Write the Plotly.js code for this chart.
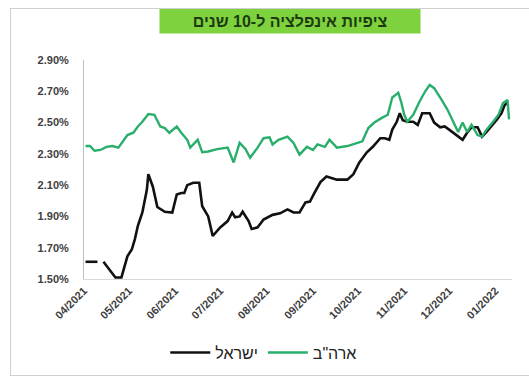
<!DOCTYPE html>
<html><head><meta charset="utf-8">
<script src="https://cdn.plot.ly/plotly-3.0.1.min.js"></script>
<style>
html,body{margin:0;padding:0;background:#fff;}
#wrap{position:relative;width:529px;height:380px;overflow:hidden;}
#frame{position:absolute;left:10px;top:8px;width:530px;height:368px;border:1px solid #cfcfcf;box-sizing:border-box;pointer-events:none;}
#chart{position:absolute;left:0;top:0;width:529px;height:380px;}
</style></head>
<body><div id="wrap"><div id="chart"></div><div id="frame"></div></div>
<script>
const israelDates = ["2021-04-02","2021-04-10","2021-04-12","2021-04-14","2021-04-22","2021-04-26","2021-04-30","2021-05-03","2021-05-05","2021-05-07","2021-05-10","2021-05-13","2021-05-14","2021-05-17","2021-05-20","2021-05-25","2021-05-30","2021-06-02","2021-06-05","2021-06-07","2021-06-09","2021-06-13","2021-06-17","2021-06-19","2021-06-23","2021-06-26","2021-07-01","2021-07-06","2021-07-09","2021-07-11","2021-07-14","2021-07-16","2021-07-20","2021-07-22","2021-07-26","2021-07-30","2021-08-03","2021-08-05","2021-08-10","2021-08-15","2021-08-19","2021-08-23","2021-08-27","2021-08-30","2021-09-02","2021-09-06","2021-09-10","2021-09-17","2021-09-24","2021-09-28","2021-10-02","2021-10-07","2021-10-11","2021-10-16","2021-10-19","2021-10-22","2021-10-24","2021-10-27","2021-10-29","2021-10-31","2021-11-03","2021-11-07","2021-11-10","2021-11-13","2021-11-18","2021-11-21","2021-11-25","2021-11-28","2021-12-01","2021-12-06","2021-12-10","2021-12-13","2021-12-16","2021-12-20","2021-12-23","2021-12-26","2021-12-30","2022-01-02","2022-01-05","2022-01-07","2022-01-09"];
const israelValues = [1.61,1.61,null,1.61,1.51,1.51,1.645,1.69,1.755,1.84,1.925,2.07,2.17,2.09,1.96,1.93,1.925,2.04,2.05,2.05,2.10,2.115,2.115,1.965,1.90,1.775,1.83,1.87,1.925,1.895,1.90,1.93,1.87,1.82,1.83,1.88,1.90,1.91,1.92,1.945,1.925,1.925,1.99,1.995,2.05,2.12,2.155,2.135,2.135,2.17,2.245,2.31,2.345,2.40,2.40,2.39,2.455,2.505,2.56,2.515,2.505,2.505,2.485,2.56,2.56,2.50,2.47,2.475,2.455,2.42,2.39,2.435,2.47,2.47,2.41,2.44,2.485,2.52,2.56,2.61,2.63];
const usDates = ["2021-04-02","2021-04-05","2021-04-08","2021-04-12","2021-04-16","2021-04-20","2021-04-24","2021-04-27","2021-04-30","2021-05-04","2021-05-07","2021-05-10","2021-05-14","2021-05-18","2021-05-22","2021-05-25","2021-05-28","2021-06-02","2021-06-05","2021-06-09","2021-06-11","2021-06-14","2021-06-16","2021-06-19","2021-06-23","2021-06-29","2021-07-06","2021-07-10","2021-07-14","2021-07-18","2021-07-21","2021-07-26","2021-07-30","2021-08-03","2021-08-05","2021-08-09","2021-08-15","2021-08-19","2021-08-23","2021-08-28","2021-09-01","2021-09-04","2021-09-09","2021-09-12","2021-09-17","2021-09-24","2021-09-30","2021-10-04","2021-10-08","2021-10-12","2021-10-17","2021-10-21","2021-10-24","2021-10-28","2021-10-30","2021-11-01","2021-11-03","2021-11-07","2021-11-11","2021-11-15","2021-11-18","2021-11-21","2021-11-26","2021-11-30","2021-12-03","2021-12-07","2021-12-10","2021-12-13","2021-12-16","2021-12-20","2021-12-23","2021-12-26","2021-12-30","2022-01-03","2022-01-06","2022-01-09","2022-01-10"];
const usValues = [2.35,2.35,2.32,2.325,2.345,2.35,2.34,2.38,2.42,2.435,2.475,2.505,2.555,2.55,2.475,2.465,2.435,2.475,2.435,2.39,2.34,2.37,2.39,2.31,2.315,2.33,2.34,2.245,2.37,2.33,2.275,2.34,2.40,2.405,2.36,2.39,2.41,2.37,2.295,2.345,2.325,2.36,2.345,2.39,2.34,2.35,2.37,2.38,2.465,2.50,2.53,2.55,2.66,2.69,2.63,2.55,2.505,2.55,2.63,2.70,2.74,2.72,2.645,2.58,2.52,2.44,2.50,2.44,2.485,2.42,2.41,2.455,2.50,2.55,2.625,2.645,2.52];
const yTicks = [1.5,1.7,1.9,2.1,2.3,2.5,2.7,2.9];
const yTickText = ["1.50%","1.70%","1.90%","2.10%","2.30%","2.50%","2.70%","2.90%"];
const seriesNames = ["ישראל","ארה\"ב"];
const chartTitle = "ציפיות אינפלציה ל-10 שנים";

const tickFont = {size: 11, color: '#404040', family: 'Liberation Sans, Arial, sans-serif', weight: 'bold'};
const traces = [
  {x: israelDates, y: israelValues, name: seriesNames[0], type: 'scatter', mode: 'lines',
   line: {color: '#111111', width: 2.6}, connectgaps: false},
  {x: usDates, y: usValues, name: seriesNames[1], type: 'scatter', mode: 'lines',
   line: {color: '#2aae6c', width: 2.4}}
];
const layout = {
  width: 529, height: 380,
  margin: {l: 84, r: 17, t: 60, b: 100},
  paper_bgcolor: 'rgba(0,0,0,0)', plot_bgcolor: '#fff',
  font: {family: 'Liberation Sans, Arial, sans-serif', color: '#444'},
  showlegend: true,
  legend: {orientation: 'h', x: 0.42, xanchor: 'center', y: -0.33, yanchor: 'middle',
           font: {size: 16, color: '#222', family: 'Liberation Sans, Arial, sans-serif'}, itemwidth: 40},
  xaxis: {type: 'date', range: ['2021-04-01', '2022-01-12'], dtick: 'M1', tick0: '2021-04-01',
          tickformat: '%m/%Y', tickangle: -45, showgrid: false, zeroline: false,
          showline: true, linecolor: '#d9d9d9', linewidth: 1, ticks: '',
          tickfont: tickFont},
  yaxis: {range: [1.5, 2.9], tickvals: yTicks, ticktext: yTickText, showgrid: false, zeroline: false,
          showline: true, linecolor: '#bfbfbf', linewidth: 1, ticks: '', ticklabelstandoff: 12,
          tickfont: tickFont},
  annotations: [{text: chartTitle, xref: 'paper', yref: 'paper', x: 0.481, y: 1.177,
                 xanchor: 'center', yanchor: 'middle', showarrow: false,
                 bgcolor: '#7ed23d', borderpad: 2, width: 256, height: 20,
                 font: {size: 16, color: '#1d3a12', family: 'Liberation Sans, Arial, sans-serif', weight: 'bold'}}]
};
Plotly.newPlot('chart', traces, layout, {displayModeBar: false, staticPlot: true});
</script></body></html>
